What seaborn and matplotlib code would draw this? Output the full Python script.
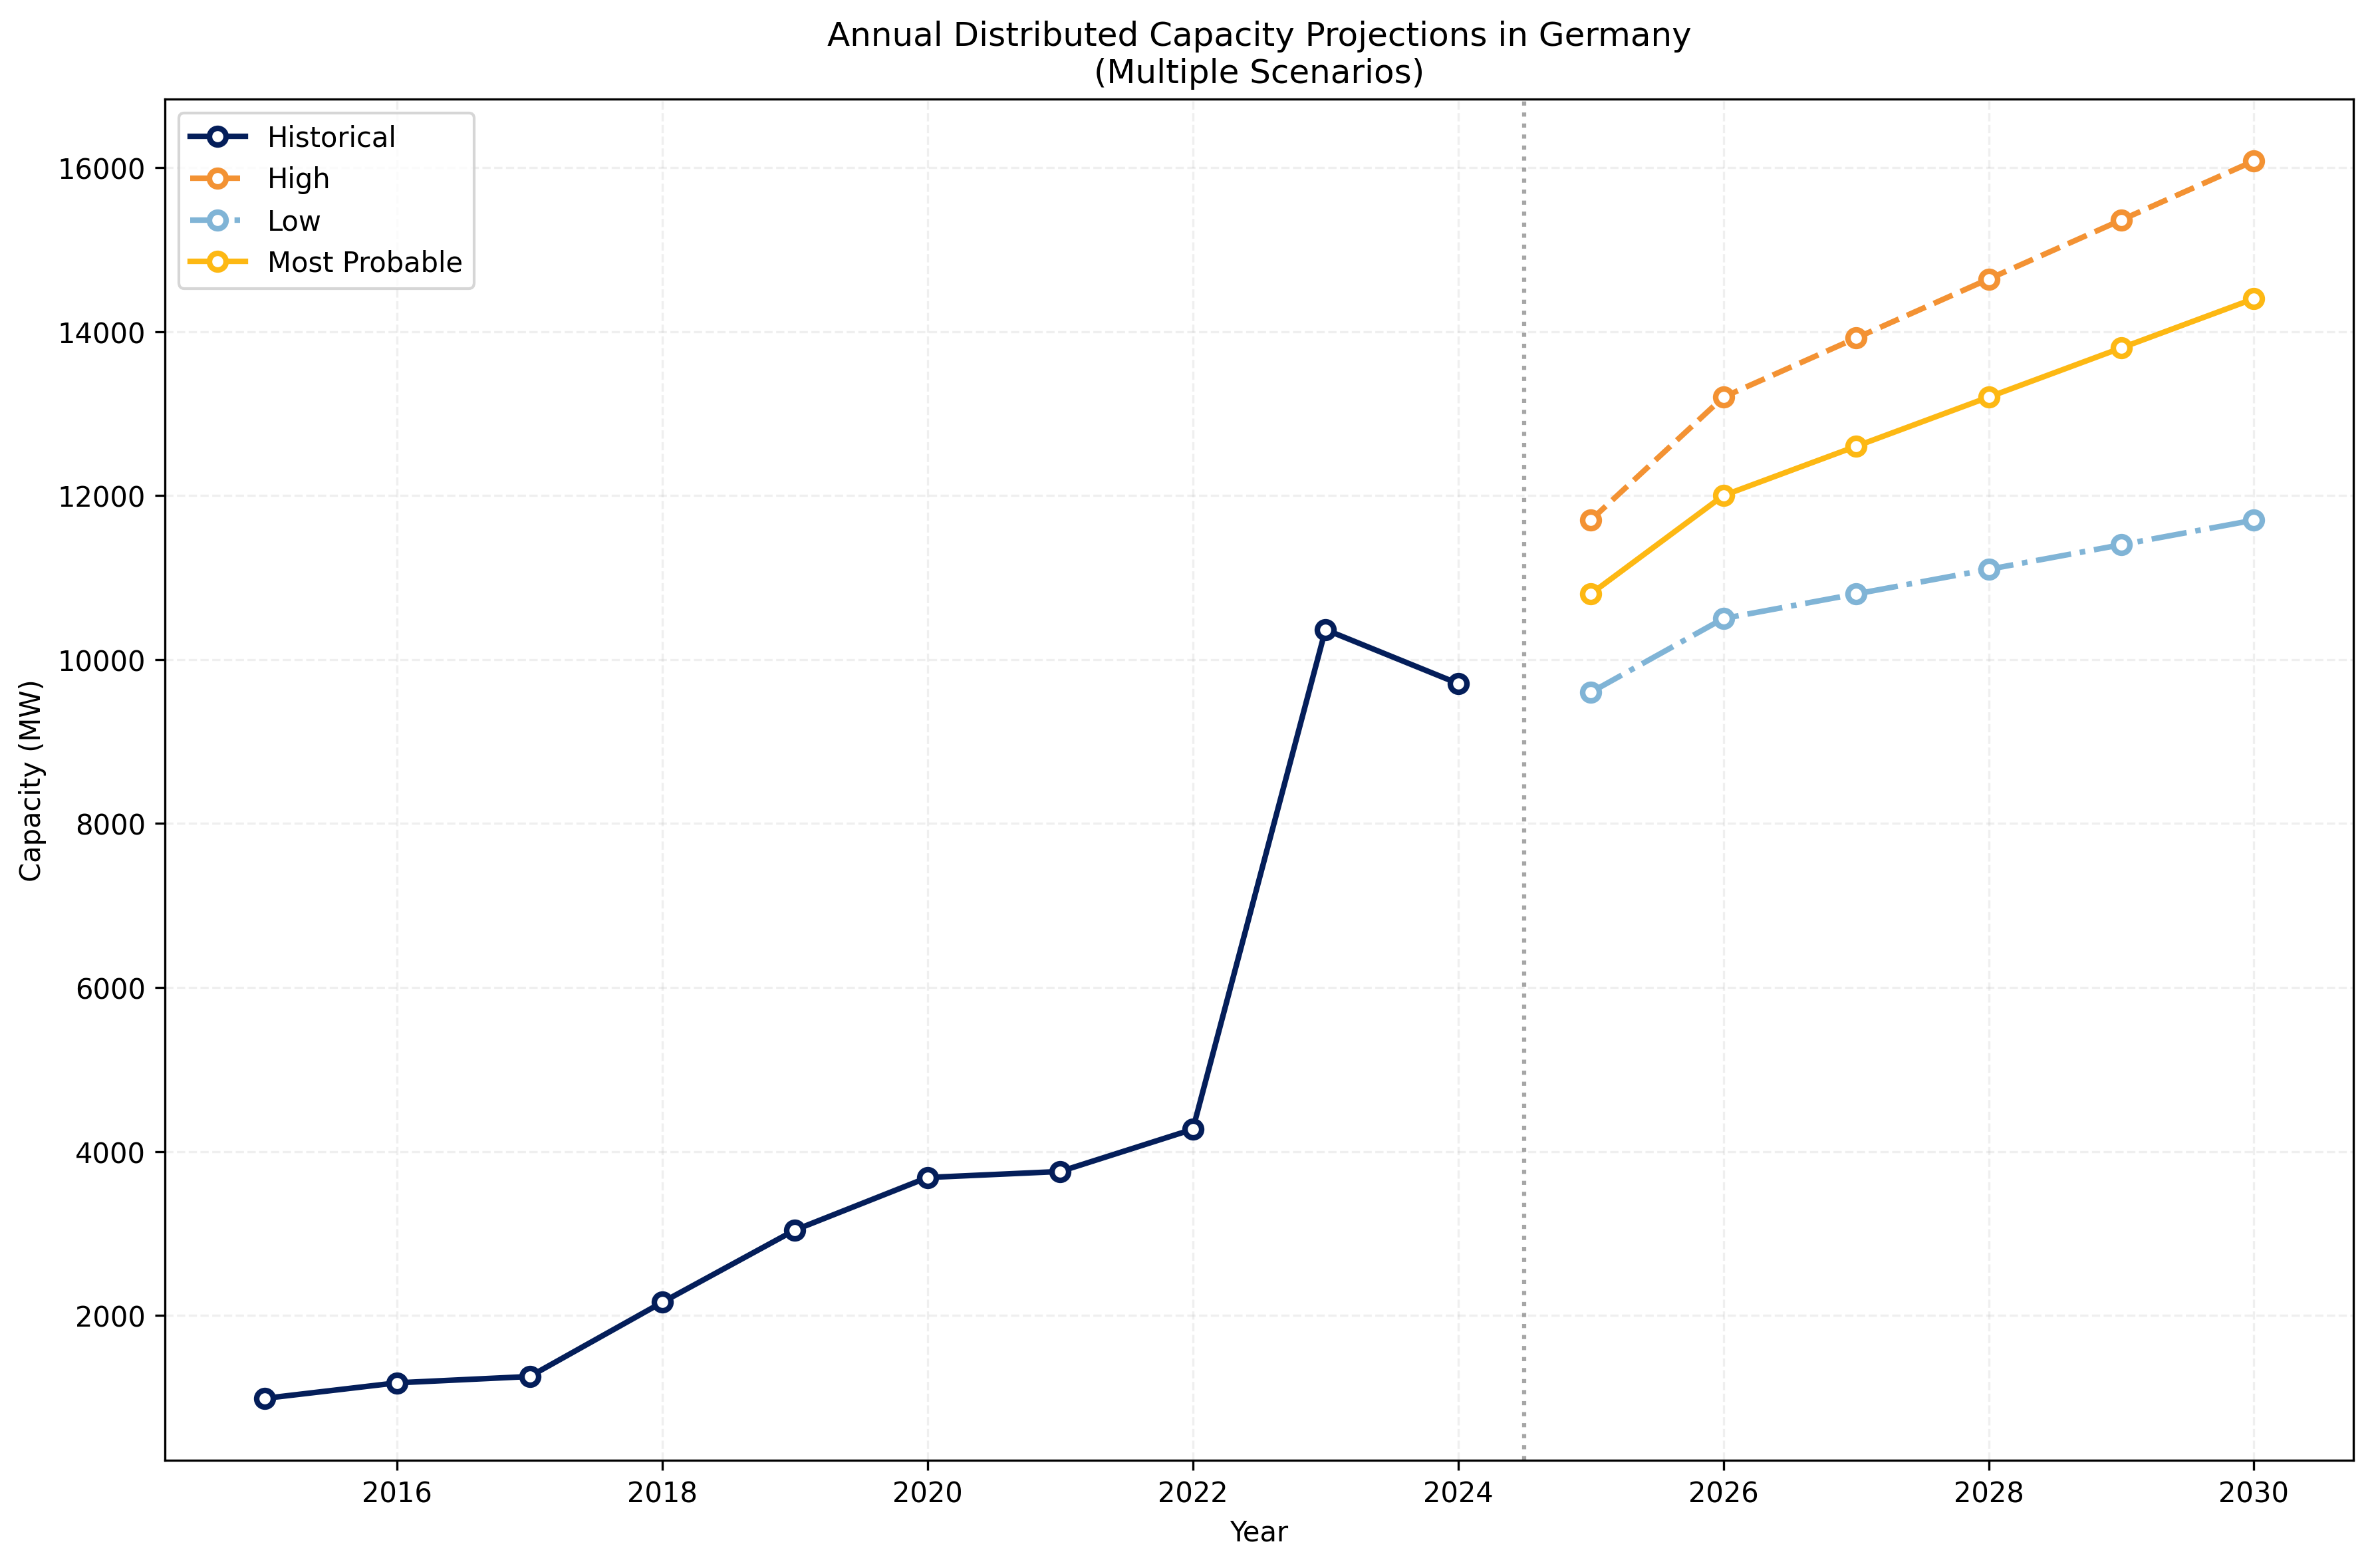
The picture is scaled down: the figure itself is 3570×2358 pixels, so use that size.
import matplotlib
matplotlib.use("Agg")
import matplotlib.pyplot as plt
import seaborn as sns
import pandas as pd

hist_years = [2015, 2016, 2017, 2018, 2019, 2020, 2021, 2022, 2023, 2024]
hist_values = [990, 1180, 1257, 2162, 3043, 3684, 3757, 4272, 10365, 9708]

proj_years = [2025, 2026, 2027, 2028, 2029, 2030]
high_values = [11700, 13200, 13920, 14640, 15360, 16080]
low_values = [9600, 10500, 10800, 11100, 11400, 11700]
mp_values = [10800, 12000, 12600, 13200, 13800, 14400]

series = [
    ("Historical", hist_years, hist_values, "#041E5A", "-"),
    ("High", proj_years, high_values, "#F39233", "--"),
    ("Low", proj_years, low_values, "#80B4D6", "-."),
    ("Most Probable", proj_years, mp_values, "#FDB813", "-"),
]

fig, ax = plt.subplots(figsize=(11.9, 7.8633), dpi=300)
fig.subplots_adjust(left=248/3570, right=3539/3570, top=1-150/2359, bottom=1-2197/2359)

for name, xs, ys, col, ls in series:
    df = pd.DataFrame({"Year": xs, "Capacity": ys})
    sns.lineplot(data=df, x="Year", y="Capacity", ax=ax, color=col, linestyle=ls,
                 linewidth=2, marker="o", markersize=6, markerfacecolor="white",
                 markeredgecolor=col, markeredgewidth=2, label=name)

ax.axvline(2024.5, color="gray", linestyle=":", alpha=0.7, linewidth=1.5)
ax.grid(True, linestyle="--", alpha=0.2)
ax.set_title("Annual Distributed Capacity Projections in Germany\n(Multiple Scenarios)", fontsize=12)
ax.set_xlabel("Year")
ax.set_ylabel("Capacity (MW)")
ax.legend(loc="upper left")

fig.savefig("out.png", dpi=300)
